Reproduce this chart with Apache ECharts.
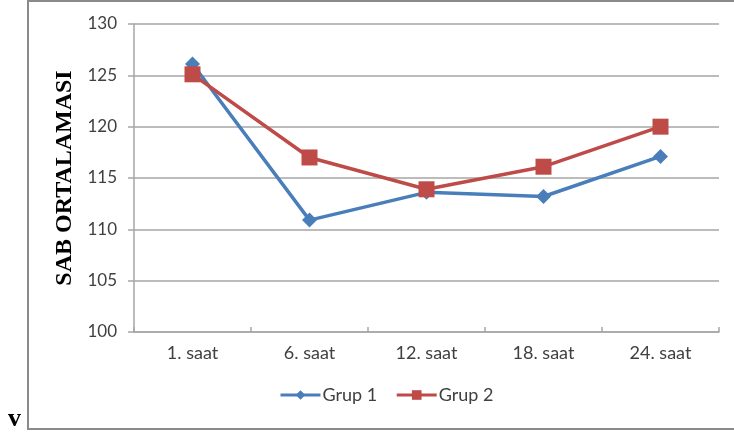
<!DOCTYPE html>
<html>
<head>
<meta charset="utf-8">
<script src="https://cdn.jsdelivr.net/npm/echarts@6/dist/echarts.min.js"></script>
<style>
  html, body { margin: 0; padding: 0; background: #fff; }
  #chart { width: 734px; height: 434px; }
</style>
</head>
<body>
<div id="chart"></div>
<script>
// Saat kategorileri ve grup ortalamaları
const categories = ['1. saat', '6. saat', '12. saat', '18. saat', '24. saat'];
const grup1 = [126.1, 110.9, 113.6, 113.2, 117.1];
const grup2 = [125.1, 117.0, 113.9, 116.1, 120.0];
const seriesNames = ['Grup 1', 'Grup 2'];
const yTitle = 'SAB ORTALAMASI';

const labelFont = 'Lato, "Open Sans", sans-serif';
const chart = echarts.init(document.getElementById('chart'), null, { renderer: 'canvas' });

chart.setOption({
  animation: false,
  backgroundColor: '#ffffff',
  graphic: [
    // Çerçeve (sol, üst, alt kenar)
    {
      type: 'polyline',
      shape: { points: [[740, 1], [28, 1], [28, 429], [740, 429]] },
      style: { stroke: '#8a8a8a', lineWidth: 2, fill: null },
      silent: true
    },
    {
      type: 'text',
      left: 8, top: 406,
      style: { text: 'v', font: 'bold 26px "Liberation Serif", "DejaVu Serif", serif', fill: '#000' }
    }
  ],
  grid: { left: 134, right: 15, top: 24, bottom: 102 },
  legend: {
    data: seriesNames,
    bottom: 25,
    left: 274,
    itemWidth: 40,
    itemHeight: 12,
    itemGap: 18,
    lineStyle: { width: 3 },
    textStyle: { fontFamily: labelFont, fontSize: 18, color: '#404040', padding: [0, 0, 0, -3] }
  },
  xAxis: {
    type: 'category',
    data: categories,
    boundaryGap: true,
    axisLine: { lineStyle: { color: '#a6a6a6', width: 1.5 } },
    axisTick: { show: true, inside: true, length: 5, alignWithLabel: false, lineStyle: { color: '#a6a6a6', width: 1.5 } },
    axisLabel: { fontFamily: labelFont, fontSize: 18, color: '#404040', margin: 12 },
    splitLine: { show: false }
  },
  yAxis: {
    type: 'value',
    min: 100, max: 130, interval: 5,
    name: yTitle,
    nameLocation: 'middle',
    nameGap: 54,
    nameRotate: 90,
    nameTextStyle: { fontFamily: '"Liberation Serif", "DejaVu Serif", serif', fontWeight: 'bold', fontSize: 24, color: '#000' },
    axisLine: { show: true, lineStyle: { color: '#a6a6a6', width: 1.5 } },
    axisTick: { show: true, inside: false, length: 6, lineStyle: { color: '#a6a6a6', width: 1.5 } },
    axisLabel: { fontFamily: labelFont, fontSize: 17, color: '#404040', margin: 17 },
    splitLine: { show: true, lineStyle: { color: '#a6a6a6', width: 1.5 } }
  },
  series: [
    {
      name: seriesNames[0],
      type: 'line',
      data: grup1,
      symbol: 'diamond',
      symbolSize: 15,
      color: '#4a7ebb',
      lineStyle: { width: 3.5, color: '#4a7ebb' },
      itemStyle: { color: '#4a7ebb' },
      z: 3
    },
    {
      name: seriesNames[1],
      type: 'line',
      data: grup2,
      symbol: 'rect',
      symbolSize: 16,
      color: '#be4b48',
      lineStyle: { width: 3.5, color: '#be4b48' },
      itemStyle: { color: '#be4b48' },
      z: 4
    }
  ]
});
</script>
</body>
</html>
